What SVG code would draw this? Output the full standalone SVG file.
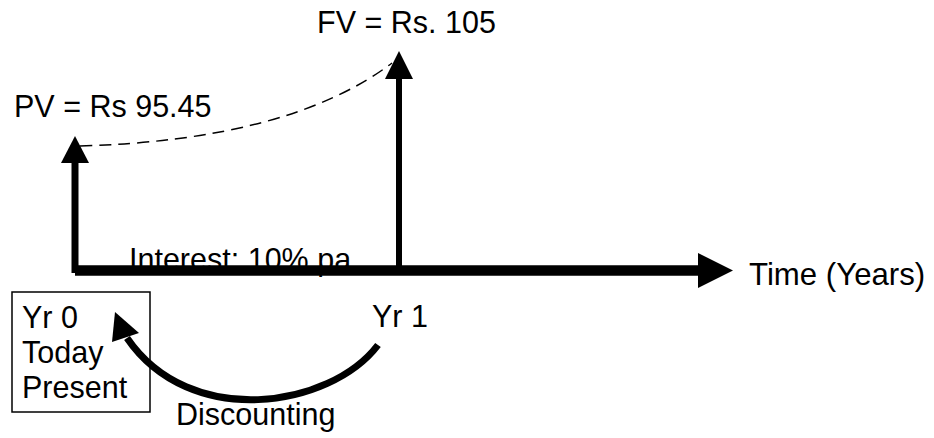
<svg xmlns="http://www.w3.org/2000/svg" width="934" height="438" viewBox="0 0 934 438">
<style>
text{font-family:"Liberation Sans",Arial,sans-serif;font-size:30.5px;fill:#000}
.sh{stroke:#000;fill:none}
.hd{fill:#000;stroke:none}
</style>
<rect width="934" height="438" fill="#fff"/>
<g id="interest"><text x="129" y="270">Interest: 10% pa</text></g>
<g id="connectors">
<path class="sh" d="M80 146 Q290 140 392 63" stroke-width="1.5" stroke-dasharray="12 7"/>
<line class="sh" x1="75" y1="273" x2="75" y2="160" stroke-width="7"/>
<polygon class="hd" points="75,136 61,163 89,163"/>
<line class="sh" x1="399" y1="268" x2="399" y2="76" stroke-width="6"/>
<polygon class="hd" points="399,51 385,79 413,79"/>
<line class="sh" x1="75" y1="270.5" x2="702" y2="270.5" stroke-width="10.5"/>
<polygon class="hd" points="733,270.5 698,253 698,288"/>
<path class="sh" d="M378 345 C330 408 190 430 127 338" stroke-width="7"/>
<polygon class="hd" points="115,312 112,342 139,333"/>
</g>
<g id="fv"><text x="317" y="33">FV = Rs. 105</text></g>
<g id="pv"><text x="14" y="117">PV = Rs 95.45</text></g>
<g id="time"><text x="749" y="285" style="font-size:31.2px">Time (Years)</text></g>
<g id="yr0">
<rect x="12" y="292" width="138" height="120" fill="none" stroke="#000" stroke-width="1.5"/>
<text x="22" y="328">Yr 0</text>
<text x="22" y="363">Today</text>
<text x="22" y="398">Present</text>
</g>
<g id="yr1"><text x="372" y="327">Yr 1</text></g>
<g id="discounting"><text x="176" y="425">Discounting</text></g>
</svg>
